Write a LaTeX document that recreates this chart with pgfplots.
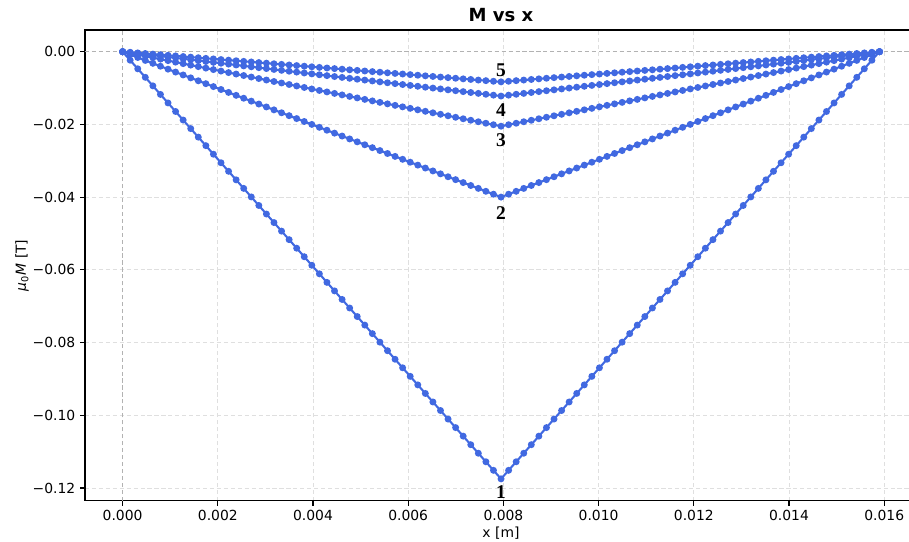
\documentclass[border=0pt]{standalone}
\usepackage{fontspec}
\setmainfont{DejaVu Sans}
\newfontfamily\labelserif{Liberation Serif}
\usepackage{pgfplots}
\usepackage{pgfplotstable}
\pgfplotsset{compat=1.18}
\definecolor{royalblue}{RGB}{65,105,225}

% magnetisation profiles, curves 1..5
\pgfplotstableread{
x y1 y2 y3 y4 y5
0 0 0 0 0 0
0.000159 -0.00235 -0.0008 -0.00041 -0.000244 -0.000166
0.000318 -0.0047 -0.0016 -0.00082 -0.000488 -0.000332
0.000477 -0.00705 -0.0024 -0.00123 -0.000732 -0.000498
0.000636 -0.0094 -0.0032 -0.00164 -0.000976 -0.000664
0.000795 -0.01175 -0.004 -0.00205 -0.00122 -0.00083
0.000954 -0.0141 -0.0048 -0.00246 -0.001464 -0.000996
0.001113 -0.01645 -0.0056 -0.00287 -0.001708 -0.001162
0.001272 -0.0188 -0.0064 -0.00328 -0.001952 -0.001328
0.001431 -0.02115 -0.0072 -0.00369 -0.002196 -0.001494
0.00159 -0.0235 -0.008 -0.0041 -0.00244 -0.00166
0.001749 -0.02585 -0.0088 -0.00451 -0.002684 -0.001826
0.001908 -0.0282 -0.0096 -0.00492 -0.002928 -0.001992
0.002067 -0.03055 -0.0104 -0.00533 -0.003172 -0.002158
0.002226 -0.0329 -0.0112 -0.00574 -0.003416 -0.002324
0.002385 -0.03525 -0.012 -0.00615 -0.00366 -0.00249
0.002544 -0.0376 -0.0128 -0.00656 -0.003904 -0.002656
0.002703 -0.03995 -0.0136 -0.00697 -0.004148 -0.002822
0.002862 -0.0423 -0.0144 -0.00738 -0.004392 -0.002988
0.003021 -0.04465 -0.0152 -0.00779 -0.004636 -0.003154
0.00318 -0.047 -0.016 -0.0082 -0.00488 -0.00332
0.003339 -0.04935 -0.0168 -0.00861 -0.005124 -0.003486
0.003498 -0.0517 -0.0176 -0.00902 -0.005368 -0.003652
0.003657 -0.05405 -0.0184 -0.00943 -0.005612 -0.003818
0.003816 -0.0564 -0.0192 -0.00984 -0.005856 -0.003984
0.003975 -0.05875 -0.02 -0.01025 -0.0061 -0.00415
0.004134 -0.0611 -0.0208 -0.01066 -0.006344 -0.004316
0.004293 -0.06345 -0.0216 -0.01107 -0.006588 -0.004482
0.004452 -0.0658 -0.0224 -0.01148 -0.006832 -0.004648
0.004611 -0.06815 -0.0232 -0.01189 -0.007076 -0.004814
0.00477 -0.0705 -0.024 -0.0123 -0.00732 -0.00498
0.004929 -0.07285 -0.0248 -0.01271 -0.007564 -0.005146
0.005088 -0.0752 -0.0256 -0.01312 -0.007808 -0.005312
0.005247 -0.07755 -0.0264 -0.01353 -0.008052 -0.005478
0.005406 -0.0799 -0.0272 -0.01394 -0.008296 -0.005644
0.005565 -0.08225 -0.028 -0.01435 -0.00854 -0.00581
0.005724 -0.0846 -0.0288 -0.01476 -0.008784 -0.005976
0.005883 -0.08695 -0.0296 -0.01517 -0.009028 -0.006142
0.006042 -0.0893 -0.0304 -0.01558 -0.009272 -0.006308
0.006201 -0.09165 -0.0312 -0.01599 -0.009516 -0.006474
0.00636 -0.094 -0.032 -0.0164 -0.00976 -0.00664
0.006519 -0.09635 -0.0328 -0.01681 -0.010004 -0.006806
0.006678 -0.0987 -0.0336 -0.01722 -0.010248 -0.006972
0.006837 -0.10105 -0.0344 -0.01763 -0.010492 -0.007138
0.006996 -0.1034 -0.0352 -0.01804 -0.010736 -0.007304
0.007155 -0.10575 -0.036 -0.01845 -0.01098 -0.00747
0.007314 -0.1081 -0.0368 -0.01886 -0.011224 -0.007636
0.007473 -0.11045 -0.0376 -0.01927 -0.011468 -0.007802
0.007632 -0.1128 -0.0384 -0.01968 -0.011712 -0.007968
0.007791 -0.11515 -0.0392 -0.02009 -0.011956 -0.008134
0.00795 -0.1175 -0.04 -0.0205 -0.0122 -0.0083
0.008109 -0.11515 -0.0392 -0.02009 -0.011956 -0.008134
0.008268 -0.1128 -0.0384 -0.01968 -0.011712 -0.007968
0.008427 -0.11045 -0.0376 -0.01927 -0.011468 -0.007802
0.008586 -0.1081 -0.0368 -0.01886 -0.011224 -0.007636
0.008745 -0.10575 -0.036 -0.01845 -0.01098 -0.00747
0.008904 -0.1034 -0.0352 -0.01804 -0.010736 -0.007304
0.009063 -0.10105 -0.0344 -0.01763 -0.010492 -0.007138
0.009222 -0.0987 -0.0336 -0.01722 -0.010248 -0.006972
0.009381 -0.09635 -0.0328 -0.01681 -0.010004 -0.006806
0.00954 -0.094 -0.032 -0.0164 -0.00976 -0.00664
0.009699 -0.09165 -0.0312 -0.01599 -0.009516 -0.006474
0.009858 -0.0893 -0.0304 -0.01558 -0.009272 -0.006308
0.010017 -0.08695 -0.0296 -0.01517 -0.009028 -0.006142
0.010176 -0.0846 -0.0288 -0.01476 -0.008784 -0.005976
0.010335 -0.08225 -0.028 -0.01435 -0.00854 -0.00581
0.010494 -0.0799 -0.0272 -0.01394 -0.008296 -0.005644
0.010653 -0.07755 -0.0264 -0.01353 -0.008052 -0.005478
0.010812 -0.0752 -0.0256 -0.01312 -0.007808 -0.005312
0.010971 -0.07285 -0.0248 -0.01271 -0.007564 -0.005146
0.01113 -0.0705 -0.024 -0.0123 -0.00732 -0.00498
0.011289 -0.06815 -0.0232 -0.01189 -0.007076 -0.004814
0.011448 -0.0658 -0.0224 -0.01148 -0.006832 -0.004648
0.011607 -0.06345 -0.0216 -0.01107 -0.006588 -0.004482
0.011766 -0.0611 -0.0208 -0.01066 -0.006344 -0.004316
0.011925 -0.05875 -0.02 -0.01025 -0.0061 -0.00415
0.012084 -0.0564 -0.0192 -0.00984 -0.005856 -0.003984
0.012243 -0.05405 -0.0184 -0.00943 -0.005612 -0.003818
0.012402 -0.0517 -0.0176 -0.00902 -0.005368 -0.003652
0.012561 -0.04935 -0.0168 -0.00861 -0.005124 -0.003486
0.01272 -0.047 -0.016 -0.0082 -0.00488 -0.00332
0.012879 -0.04465 -0.0152 -0.00779 -0.004636 -0.003154
0.013038 -0.0423 -0.0144 -0.00738 -0.004392 -0.002988
0.013197 -0.03995 -0.0136 -0.00697 -0.004148 -0.002822
0.013356 -0.0376 -0.0128 -0.00656 -0.003904 -0.002656
0.013515 -0.03525 -0.012 -0.00615 -0.00366 -0.00249
0.013674 -0.0329 -0.0112 -0.00574 -0.003416 -0.002324
0.013833 -0.03055 -0.0104 -0.00533 -0.003172 -0.002158
0.013992 -0.0282 -0.0096 -0.00492 -0.002928 -0.001992
0.014151 -0.02585 -0.0088 -0.00451 -0.002684 -0.001826
0.01431 -0.0235 -0.008 -0.0041 -0.00244 -0.00166
0.014469 -0.02115 -0.0072 -0.00369 -0.002196 -0.001494
0.014628 -0.0188 -0.0064 -0.00328 -0.001952 -0.001328
0.014787 -0.01645 -0.0056 -0.00287 -0.001708 -0.001162
0.014946 -0.0141 -0.0048 -0.00246 -0.001464 -0.000996
0.015105 -0.01175 -0.004 -0.00205 -0.00122 -0.00083
0.015264 -0.0094 -0.0032 -0.00164 -0.000976 -0.000664
0.015423 -0.00705 -0.0024 -0.00123 -0.000732 -0.000498
0.015582 -0.0047 -0.0016 -0.00082 -0.000488 -0.000332
0.015741 -0.00235 -0.0008 -0.00041 -0.000244 -0.000166
0.0159 0 0 0 0 0
}\mdata

\begin{document}
\begin{tikzpicture}
\begin{axis}[
    at={(0,0)}, anchor=south west,
    scale only axis,
    width=599pt, height=338.9pt,
    xmin=-0.00079, xmax=0.016687,
    ymin=-0.1235, ymax=0.00597,
    xtick={0,0.002,0.004,0.006,0.008,0.010,0.012,0.014,0.016},
    xticklabels={0.000,0.002,0.004,0.006,0.008,0.010,0.012,0.014,0.016},
    ytick={-0.12,-0.10,-0.08,-0.06,-0.04,-0.02,0},
    yticklabels={−0.12,−0.10,−0.08,−0.06,−0.04,−0.02,0.00},
    scaled ticks=false,
    tick align=outside, xtick pos=bottom, ytick pos=left,
    major tick length=3.5pt,
    tick style={black, line width=0.8pt},
    axis line style={line width=0.8pt},
    grid=major,
    grid style={dash pattern=on 3pt off 2pt, gray!25, line width=0.6pt},
    ticklabel style={font=\fontsize{10}{12}\selectfont},
    every axis title shift=0pt,
    title={\bfseries M vs x},
    title style={font=\fontsize{13}{15}\selectfont, at={(axis description cs:0.5,1.017)}, anchor=base},
    xlabel={x [m]},
    xlabel style={font=\fontsize{10}{12}\selectfont, at={(axis description cs:0.5,-0.078)}, anchor=base},
    ylabel={\textit{μ}\textsubscript{0}\textit{M} [T]},
    ylabel style={font=\fontsize{10}{12}\selectfont, at={(axis description cs:-0.0757,0.5)}, anchor=center, rotate=0},
]
\draw[gray!60, line width=0.8pt, dash pattern=on 3pt off 2pt] (-0.00079,0) -- (0.016687,0);
\draw[gray!60, line width=0.8pt, dash pattern=on 3pt off 2pt] (0,-0.1235) -- (0,0.00597);

\addplot[royalblue, line width=1.5pt, mark=*, mark size=1.7pt] table[x=x, y=y1] {\mdata};
\addplot[royalblue, line width=1.5pt, mark=*, mark size=1.7pt] table[x=x, y=y2] {\mdata};
\addplot[royalblue, line width=1.5pt, mark=*, mark size=1.7pt] table[x=x, y=y3] {\mdata};
\addplot[royalblue, line width=1.5pt, mark=*, mark size=1.7pt] table[x=x, y=y4] {\mdata};
\addplot[royalblue, line width=1.5pt, mark=*, mark size=1.7pt] table[x=x, y=y5] {\mdata};

\node[font=\labelserif\bfseries\fontsize{14}{14}\selectfont] at (0.00795,-0.00503) {5};
\node[font=\labelserif\bfseries\fontsize{14}{14}\selectfont] at (0.00795,-0.0160) {4};
\node[font=\labelserif\bfseries\fontsize{14}{14}\selectfont] at (0.00795,-0.0243) {3};
\node[font=\labelserif\bfseries\fontsize{14}{14}\selectfont] at (0.00795,-0.0443) {2};
\node[font=\labelserif\bfseries\fontsize{14}{14}\selectfont] at (0.00795,-0.1211) {1};
\end{axis}
\pgfresetboundingbox
\path[use as bounding box] (-61.2pt,-29.7pt) rectangle (593.3pt,360.5pt);
\end{tikzpicture}
\end{document}
